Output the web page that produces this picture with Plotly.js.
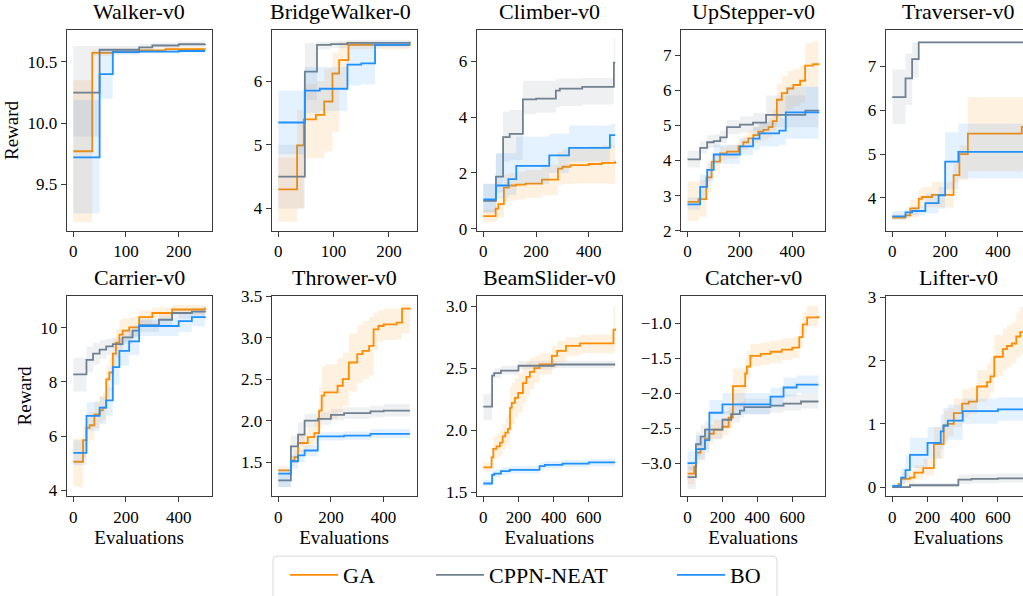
<!DOCTYPE html>
<html>
<head>
<meta charset="utf-8">
<script src="https://cdn.plot.ly/plotly-3.0.1.min.js"></script>
<style>
html,body{margin:0;padding:0;background:#fff;overflow:hidden;}
#wrap{width:1023px;height:596px;overflow:hidden;position:relative;}
#chart{width:1040px;height:596px;}
</style>
</head>
<body>
<div id="wrap"><div id="chart"></div></div>
<script>
// ---------------- DATA ----------------
const panelTitles = ['Walker-v0','BridgeWalker-0','Climber-v0','UpStepper-v0','Traverser-v0',
                     'Carrier-v0','Thrower-v0','BeamSlider-v0','Catcher-v0','Lifter-v0'];
const methodNames = ['GA','CPPN-NEAT','BO'];

// Walker-v0
const walkerX_GA = [0,36,75,125,175,250];
const walkerY_GA = [9.77,10.575,10.585,10.595,10.605,10.61];
const walkerLo_GA = [9.19,10.55,10.57,10.58,10.59,10.595];
const walkerHi_GA = [10.35,10.60,10.60,10.61,10.62,10.625];
const walkerX_CPPN = [0,50,125,150,200,250];
const walkerY_CPPN = [10.25,10.60,10.62,10.635,10.645,10.65];
const walkerLo_CPPN = [9.89,10.57,10.59,10.61,10.62,10.62];
const walkerHi_CPPN = [10.63,10.63,10.65,10.66,10.67,10.67];
const walkerX_BO = [0,50,75,125,200,250];
const walkerY_BO = [9.72,10.40,10.58,10.585,10.59,10.59];
const walkerLo_BO = [9.26,10.20,10.56,10.57,10.575,10.575];
const walkerHi_BO = [10.19,10.60,10.60,10.60,10.605,10.605];

// BridgeWalker
const bridgeX_GA = [0,34,46,68,83,98,110,127,238];
const bridgeY_GA = [4.30,4.99,5.40,5.47,5.68,6.12,6.33,6.57,6.58];
const bridgeLo_GA = [3.79,4.00,4.79,4.79,4.90,5.20,5.90,6.50,6.52];
const bridgeHi_GA = [4.80,5.55,5.95,6.00,6.20,6.45,6.62,6.62,6.63];
const bridgeX_CPPN = [0,48,70,95,125,238];
const bridgeY_CPPN = [4.50,6.15,6.57,6.58,6.60,6.62];
const bridgeLo_CPPN = [4.00,5.70,6.50,6.52,6.55,6.57];
const bridgeHi_CPPN = [5.00,6.60,6.62,6.63,6.65,6.66];
const bridgeX_BO = [0,48,75,125,150,175,238];
const bridgeY_BO = [5.35,5.85,5.88,6.26,6.28,6.57,6.57];
const bridgeLo_BO = [4.85,5.50,5.53,5.93,5.95,6.53,6.53];
const bridgeHi_BO = [5.85,6.22,6.22,6.58,6.60,6.62,6.62];

// Climber-v0
const climberX_GA = [0,47,57,78,97,125,160,222,283,300,330,400,450,500];
const climberY_GA = [0.45,0.72,0.88,1.47,1.55,1.58,1.62,1.76,2.15,2.22,2.28,2.32,2.36,2.42];
const climberLo_GA = [0.24,0.30,0.40,0.95,1.00,1.05,1.10,1.20,1.55,1.60,1.62,1.62,1.62,1.62];
const climberHi_GA = [0.69,1.00,1.15,1.95,2.00,2.05,2.10,2.30,2.75,2.85,2.90,2.95,3.00,3.20];
const climberX_CPPN = [0,48,75,100,150,200,275,290,375,495,500];
const climberY_CPPN = [1.00,1.87,3.28,3.40,4.63,4.66,4.95,5.02,5.08,5.95,5.95];
const climberLo_CPPN = [0.55,1.30,2.40,2.45,4.10,4.15,4.35,4.40,4.45,5.10,5.10];
const climberHi_CPPN = [1.62,2.70,4.20,4.25,5.30,5.30,5.35,5.38,5.40,6.80,6.80];
const climberX_BO = [0,48,95,125,250,325,480,500];
const climberY_BO = [1.05,1.55,1.78,2.25,2.63,2.90,3.35,3.35];
const climberLo_BO = [0.60,1.10,1.20,1.60,2.00,2.40,2.90,2.90];
const climberHi_BO = [1.60,2.70,2.70,3.30,3.40,3.70,3.75,3.75];

// UpStepper-v0
const upX_GA = [0,42,72,92,124,150,194,213,232,251,270,290,309,325,341,360,381,404,430,449,480,500];
const upY_GA = [2.82,2.90,3.52,3.97,4.20,4.25,4.40,4.52,4.63,4.72,4.82,4.87,4.95,5.12,5.73,5.92,6.05,6.15,6.27,6.70,6.74,6.77];
const upLo_GA = [2.28,2.40,3.10,3.70,4.00,4.05,4.20,4.30,4.40,4.50,4.55,4.60,4.65,4.75,5.20,5.35,5.45,5.55,5.65,6.10,6.10,6.12];
const upHi_GA = [3.40,3.45,3.80,4.20,4.40,4.45,4.60,4.72,4.85,4.95,5.05,5.12,5.22,5.45,6.20,6.40,6.55,6.60,6.70,7.35,7.40,7.42];
const upX_CPPN = [0,48,75,100,125,150,200,250,300,450,500];
const upY_CPPN = [4.03,4.36,4.52,4.55,4.66,4.95,5.02,5.08,5.30,5.42,5.44];
const upLo_CPPN = [3.80,4.20,4.35,4.38,4.50,4.75,4.80,4.85,4.95,4.95,4.95];
const upHi_CPPN = [4.28,4.55,4.72,4.75,4.85,5.15,5.25,5.35,5.85,6.10,6.10];
const upX_BO = [0,48,75,100,200,250,275,350,375,500];
const upY_BO = [2.75,3.25,3.73,4.17,4.40,4.62,4.77,4.85,5.37,5.38];
const upLo_BO = [2.60,2.90,3.40,3.90,4.15,4.30,4.40,4.45,4.62,4.62];
const upHi_BO = [2.95,3.60,3.95,4.45,4.65,4.95,5.10,5.20,6.10,6.10];

// Traverser-v0
const travX_GA = [0,50,68,100,112,150,232,254,286,490,500];
const travY_GA = [3.55,3.60,3.76,3.98,4.02,4.07,4.52,5.00,5.47,5.62,5.62];
const travLo_GA = [3.50,3.52,3.55,3.77,3.78,3.78,4.35,4.40,4.60,4.65,4.65];
const travHi_GA = [3.62,3.70,3.95,4.20,4.25,4.37,4.80,5.20,6.30,6.30,6.30];
const travX_CPPN = [0,50,75,100,500];
const travY_CPPN = [6.30,6.73,7.17,7.55,7.56];
const travLo_CPPN = [5.68,6.13,6.75,7.53,7.54];
const travHi_CPPN = [6.93,7.30,7.55,7.58,7.59];
const travX_BO = [0,50,75,125,175,200,250,500];
const travY_BO = [3.58,3.67,3.70,3.88,4.06,4.83,5.05,5.06];
const travLo_BO = [3.50,3.58,3.60,3.65,3.75,4.20,4.45,4.45];
const travHi_BO = [3.70,3.75,3.80,4.10,4.25,5.50,5.70,5.70];

// Carrier-v0
const carrX_GA = [0,37,50,62,80,100,112,125,137,150,162,175,187,212,250,300,375,500];
const carrY_GA = [5.05,5.85,6.30,6.40,6.80,6.95,7.05,8.10,8.35,9.05,9.45,9.75,9.90,10.02,10.40,10.55,10.68,10.75];
const carrLo_GA = [4.12,5.20,5.70,5.85,6.30,6.50,6.60,7.40,7.70,8.50,8.90,9.30,9.50,9.70,10.15,10.35,10.50,10.55];
const carrHi_GA = [5.90,6.40,6.80,6.90,7.30,7.50,7.60,8.60,8.90,9.60,9.95,10.30,10.35,10.40,10.65,10.75,10.85,10.90];
const carrX_CPPN = [0,50,75,100,125,150,187,225,250,325,375,450,500];
const carrY_CPPN = [8.28,8.82,9.05,9.20,9.32,9.40,9.65,9.90,10.10,10.30,10.55,10.60,10.62];
const carrLo_CPPN = [7.65,8.35,8.65,8.85,9.00,9.15,9.40,9.65,9.85,10.05,10.35,10.42,10.45];
const carrHi_CPPN = [8.90,9.30,9.45,9.55,9.60,9.65,9.90,10.10,10.30,10.50,10.70,10.75,10.78];
const carrX_BO = [0,50,100,125,150,175,212,250,400,450,500];
const carrY_BO = [5.38,6.75,7.05,7.32,8.55,9.15,9.50,10.07,10.25,10.40,10.42];
const carrLo_BO = [4.92,6.20,6.45,6.75,7.90,8.60,9.00,9.70,9.85,10.05,10.10];
const carrHi_BO = [5.85,7.25,7.45,7.80,9.10,9.60,9.95,10.35,10.50,10.62,10.65];

// Thrower-v0
const throwX_GA = [0,48,62,75,112,137,155,165,175,225,245,268,300,320,345,362,380,400,450,470,500];
const throwY_GA = [1.40,1.52,1.56,1.73,1.80,1.85,2.12,2.30,2.34,2.42,2.50,2.70,2.80,2.84,2.90,3.10,3.14,3.16,3.18,3.35,3.36];
const throwLo_GA = [1.35,1.45,1.48,1.62,1.68,1.72,1.90,2.00,2.02,2.10,2.18,2.35,2.45,2.50,2.55,2.85,2.95,2.97,2.98,3.05,3.05];
const throwHi_GA = [1.45,1.58,1.65,1.85,1.92,1.98,2.40,2.65,2.68,2.75,2.82,3.05,3.15,3.20,3.25,3.30,3.33,3.35,3.35,3.40,3.40];
const throwX_CPPN = [0,48,75,100,150,200,250,350,400,500];
const throwY_CPPN = [1.28,1.69,1.83,2.00,2.02,2.07,2.09,2.11,2.12,2.12];
const throwLo_CPPN = [1.20,1.55,1.70,1.92,1.95,2.00,2.02,2.04,2.05,2.05];
const throwHi_CPPN = [1.36,1.82,1.98,2.08,2.10,2.14,2.16,2.18,2.20,2.20];
const throwX_BO = [0,48,75,100,150,250,350,500];
const throwY_BO = [1.36,1.51,1.58,1.64,1.81,1.82,1.84,1.84];
const throwLo_BO = [1.20,1.42,1.50,1.57,1.76,1.77,1.79,1.79];
const throwHi_BO = [1.42,1.58,1.65,1.70,1.86,1.87,1.90,1.90];

// BeamSlider-v0
const beamX_GA = [0,47,57,75,95,110,125,140,152,162,180,198,225,245,265,290,320,390,420,470,550,740,750];
const beamY_GA = [1.70,1.78,1.85,1.87,1.90,1.95,1.98,2.01,2.18,2.22,2.26,2.30,2.38,2.43,2.47,2.50,2.53,2.60,2.64,2.68,2.70,2.81,2.82];
const beamLo_GA = [1.67,1.72,1.76,1.78,1.80,1.84,1.87,1.90,2.00,2.05,2.10,2.14,2.22,2.28,2.33,2.38,2.45,2.50,2.55,2.60,2.62,2.63,2.63];
const beamHi_GA = [1.74,1.86,1.95,1.97,2.00,2.05,2.10,2.14,2.35,2.38,2.42,2.46,2.52,2.55,2.58,2.60,2.62,2.68,2.72,2.75,2.77,3.00,3.00];
const beamX_CPPN = [0,50,62,100,200,400,750];
const beamY_CPPN = [2.19,2.44,2.46,2.48,2.52,2.53,2.53];
const beamLo_CPPN = [2.08,2.40,2.42,2.45,2.49,2.50,2.50];
const beamHi_CPPN = [2.29,2.48,2.50,2.52,2.56,2.56,2.56];
const beamX_BO = [0,50,62,100,150,320,350,450,600,750];
const beamY_BO = [1.57,1.64,1.65,1.67,1.68,1.71,1.72,1.73,1.74,1.74];
const beamLo_BO = [1.55,1.61,1.62,1.64,1.65,1.68,1.69,1.70,1.71,1.71];
const beamHi_BO = [1.60,1.67,1.68,1.70,1.71,1.74,1.75,1.76,1.77,1.77];

// Catcher-v0
const catchX_GA = [0,38,50,75,100,125,150,200,235,260,330,340,360,420,475,540,600,640,660,685,750];
const catchY_GA = [-3.15,-3.05,-2.85,-2.80,-2.65,-2.58,-2.52,-2.48,-2.35,-1.90,-1.72,-1.62,-1.47,-1.44,-1.41,-1.38,-1.35,-1.20,-1.02,-0.92,-0.90];
const catchLo_GA = [-3.30,-3.20,-3.00,-2.95,-2.80,-2.72,-2.65,-2.60,-2.50,-2.20,-1.95,-1.80,-1.62,-1.60,-1.57,-1.53,-1.50,-1.35,-1.15,-1.05,-1.05];
const catchHi_GA = [-3.00,-2.92,-2.70,-2.65,-2.50,-2.45,-2.38,-2.35,-2.20,-1.65,-1.50,-1.40,-1.30,-1.28,-1.25,-1.22,-1.20,-1.05,-0.85,-0.75,-0.75];
const catchX_CPPN = [0,48,75,100,200,250,300,325,475,550,650,750];
const catchY_CPPN = [-3.20,-2.73,-2.62,-2.52,-2.38,-2.30,-2.25,-2.20,-2.18,-2.15,-2.12,-2.12];
const catchLo_CPPN = [-3.37,-2.90,-2.80,-2.65,-2.50,-2.42,-2.35,-2.30,-2.28,-2.25,-2.22,-2.22];
const catchHi_CPPN = [-3.05,-2.55,-2.45,-2.40,-2.25,-2.18,-2.12,-2.08,-2.05,-2.02,-2.00,-2.00];
const catchX_BO = [0,48,100,125,200,475,550,625,750];
const catchY_BO = [-3.00,-2.80,-2.67,-2.28,-2.16,-2.05,-1.92,-1.88,-1.88];
const catchLo_BO = [-3.10,-2.95,-2.85,-2.40,-2.30,-2.20,-2.05,-2.00,-2.00];
const catchHi_BO = [-2.83,-2.60,-2.50,-2.10,-2.00,-1.92,-1.78,-1.75,-1.75];

// Lifter-v0
const liftX_GA = [0,35,50,100,125,175,236,292,315,349,396,434,481,538,557,579,628,651,679,704,726,750];
const liftY_GA = [0.00,0.05,0.13,0.15,0.23,0.30,0.68,0.98,1.00,1.17,1.32,1.35,1.59,1.66,1.75,2.06,2.18,2.23,2.27,2.38,2.45,2.50];
const liftLo_GA = [-0.02,0.00,0.05,0.07,0.12,0.18,0.45,0.75,0.80,0.95,1.10,1.15,1.35,1.40,1.50,1.75,1.85,1.90,1.95,2.05,2.10,2.15];
const liftHi_GA = [0.03,0.10,0.22,0.25,0.35,0.45,0.95,1.20,1.25,1.40,1.55,1.58,1.85,1.95,2.05,2.40,2.50,2.55,2.60,2.75,2.85,2.90];
const liftX_CPPN = [0,100,375,450,600,750];
const liftY_CPPN = [0.00,0.03,0.12,0.13,0.14,0.14];
const liftLo_CPPN = [-0.01,0.00,0.05,0.06,0.07,0.07];
const liftHi_CPPN = [0.03,0.07,0.20,0.21,0.22,0.22];
const liftX_BO = [0,50,75,100,200,275,290,315,400,600,750];
const liftY_BO = [0.02,0.15,0.27,0.51,0.70,0.88,0.97,1.05,1.20,1.23,1.23];
const liftLo_BO = [0.00,0.05,0.10,0.30,0.45,0.60,0.70,0.75,1.00,1.05,1.05];
const liftHi_BO = [0.06,0.30,0.50,0.78,0.95,1.15,1.25,1.30,1.40,1.42,1.42];

// axis ranges and ticks per panel
const xRanges = [[-12.5,262.5],[-11.9,249.9],[-25,525],[-25,525],[-25,525],
                 [-25,525],[-25,525],[-37.5,787.5],[-37.5,787.5],[-37.5,787.5]];
const yRanges = [[9.12,10.76],[3.65,6.80],[-0.07,7.11],[2.0,7.71],[3.25,7.83],
                 [3.78,11.19],[1.09,3.505],[1.468,3.085],[-3.47,-0.61],[-0.142,3.025]];
const xDticks = [100,100,200,200,200,200,200,200,200,200];
const yDticks = [0.5,1,2,1,1,2,0.5,0.5,0.5,1];

// ---------------- BUILD ----------------
const seriesData = [
  [[walkerX_GA,walkerY_GA,walkerLo_GA,walkerHi_GA],[walkerX_CPPN,walkerY_CPPN,walkerLo_CPPN,walkerHi_CPPN],[walkerX_BO,walkerY_BO,walkerLo_BO,walkerHi_BO]],
  [[bridgeX_GA,bridgeY_GA,bridgeLo_GA,bridgeHi_GA],[bridgeX_CPPN,bridgeY_CPPN,bridgeLo_CPPN,bridgeHi_CPPN],[bridgeX_BO,bridgeY_BO,bridgeLo_BO,bridgeHi_BO]],
  [[climberX_GA,climberY_GA,climberLo_GA,climberHi_GA],[climberX_CPPN,climberY_CPPN,climberLo_CPPN,climberHi_CPPN],[climberX_BO,climberY_BO,climberLo_BO,climberHi_BO]],
  [[upX_GA,upY_GA,upLo_GA,upHi_GA],[upX_CPPN,upY_CPPN,upLo_CPPN,upHi_CPPN],[upX_BO,upY_BO,upLo_BO,upHi_BO]],
  [[travX_GA,travY_GA,travLo_GA,travHi_GA],[travX_CPPN,travY_CPPN,travLo_CPPN,travHi_CPPN],[travX_BO,travY_BO,travLo_BO,travHi_BO]],
  [[carrX_GA,carrY_GA,carrLo_GA,carrHi_GA],[carrX_CPPN,carrY_CPPN,carrLo_CPPN,carrHi_CPPN],[carrX_BO,carrY_BO,carrLo_BO,carrHi_BO]],
  [[throwX_GA,throwY_GA,throwLo_GA,throwHi_GA],[throwX_CPPN,throwY_CPPN,throwLo_CPPN,throwHi_CPPN],[throwX_BO,throwY_BO,throwLo_BO,throwHi_BO]],
  [[beamX_GA,beamY_GA,beamLo_GA,beamHi_GA],[beamX_CPPN,beamY_CPPN,beamLo_CPPN,beamHi_CPPN],[beamX_BO,beamY_BO,beamLo_BO,beamHi_BO]],
  [[catchX_GA,catchY_GA,catchLo_GA,catchHi_GA],[catchX_CPPN,catchY_CPPN,catchLo_CPPN,catchHi_CPPN],[catchX_BO,catchY_BO,catchLo_BO,catchHi_BO]],
  [[liftX_GA,liftY_GA,liftLo_GA,liftHi_GA],[liftX_CPPN,liftY_CPPN,liftLo_CPPN,liftHi_CPPN],[liftX_BO,liftY_BO,liftLo_BO,liftHi_BO]]
];

const W = 1040, H = 596;
const FONT = 'Liberation Serif';
const lineColors = ['#ff8c00','#708090','#1e90ff'];
const bandColors = ['rgba(255,140,0,0.12)','rgba(112,128,144,0.12)','rgba(30,144,255,0.12)'];
const legendIds = ['legend','legend2','legend3'];

// pixel frames of the subplots
const colPx = [[66.7,211.6],[271.7,416.5],[476.7,621.8],[681,825],[885.7,1031]];
const rowPx = [[30.3,231.5],[296.7,497.8]];

const traces = [];
const layout = {
  width: W, height: H,
  margin: {l:0,r:0,t:0,b:0},
  paper_bgcolor: '#fff', plot_bgcolor: '#fff',
  font: {family: FONT, color: '#000'},
  showlegend: true,
  annotations: [],
  shapes: []
};

for (let p = 0; p < 10; p++) {
  const r = Math.floor(p/5), c = p % 5;
  const ax = p === 0 ? '' : String(p+1);
  const xd = [colPx[c][0]/W, colPx[c][1]/W];
  const yd = [1 - rowPx[r][1]/H, 1 - rowPx[r][0]/H];
  const common = {
    showgrid:false, zeroline:false, showline:true, mirror:true,
    linecolor:'#3a3a3a', linewidth:1, ticks:'outside', ticklen:5, tickwidth:1, tickcolor:'#3a3a3a',
    tickfont:{family:FONT,size:17,color:'#000'}, fixedrange:true, tick0:0
  };
  const xa = Object.assign({}, common, {domain:xd, range:xRanges[p], dtick:xDticks[p], anchor:'y'+ax});
  const ya = Object.assign({}, common, {domain:yd, range:yRanges[p], dtick:yDticks[p], anchor:'x'+ax});
  if (yDticks[p] === 0.5) ya.tickformat = '.1f';
  if (r === 1) xa.title = {text:'Evaluations', font:{family:FONT,size:19,color:'#000'}, standoff:3};
  if (c === 0) ya.title = {text:'Reward', font:{family:FONT,size:19,color:'#000'}, standoff:3};
  layout['xaxis'+ax] = xa;
  layout['yaxis'+ax] = ya;

  layout.annotations.push({
    text: panelTitles[p], xref:'paper', yref:'paper',
    x:(xd[0]+xd[1])/2, y:yd[1], xanchor:'center', yanchor:'bottom', yshift:4,
    xshift: p === 1 ? -4 : 0,
    showarrow:false, font:{family:FONT,size:22,color:'#000'}
  });

  for (let m = 0; m < 3; m++) {
    const [xs, ys, lo, hi] = seriesData[p][m];
    traces.push({x:xs, y:lo, xaxis:'x'+ax, yaxis:'y'+ax, mode:'lines',
      line:{shape:'hv', width:0, color:bandColors[m]}, showlegend:false, hoverinfo:'skip'});
    traces.push({x:xs, y:hi, xaxis:'x'+ax, yaxis:'y'+ax, mode:'lines', fill:'tonexty',
      fillcolor:bandColors[m], line:{shape:'hv', width:0, color:bandColors[m]}, showlegend:false, hoverinfo:'skip'});
    traces.push({x:xs, y:ys, xaxis:'x'+ax, yaxis:'y'+ax, mode:'lines', name:methodNames[m],
      line:{shape:'hv', width:1.8, color:lineColors[m]},
      showlegend: p === 0, legend: legendIds[m]});
  }
}

// legends (one per method so they can be spaced like the reference)
const legTextPx = [343, 489, 730];
const legY = 1 - 577/H;
legendIds.forEach((id, i) => {
  layout[id] = {
    x:(legTextPx[i]-58)/W, y:legY, xanchor:'left', yanchor:'middle',
    orientation:'h', bgcolor:'rgba(0,0,0,0)', borderwidth:0, itemwidth:48,
    font:{family:FONT,size:22,color:'#000'}
  };
});

// legend frame
(function(){
  const x0=273/W, x1=777/W, y0=1-558/H, y1=1-640/H, rx=4/W, ry=4/H;
  layout.shapes.push({type:'path', xref:'paper', yref:'paper',
    path:`M ${x0+rx},${y0} L ${x1-rx},${y0} Q ${x1},${y0} ${x1},${y0-ry} L ${x1},${y1} L ${x0},${y1} L ${x0},${y0-ry} Q ${x0},${y0} ${x0+rx},${y0} Z`,
    line:{color:'#d9d9d9', width:1}, fillcolor:'rgba(255,255,255,0.8)', layer:'below'});
})();

Plotly.newPlot('chart', traces, layout, {displayModeBar:false, staticPlot:true});
</script>
</body>
</html>
